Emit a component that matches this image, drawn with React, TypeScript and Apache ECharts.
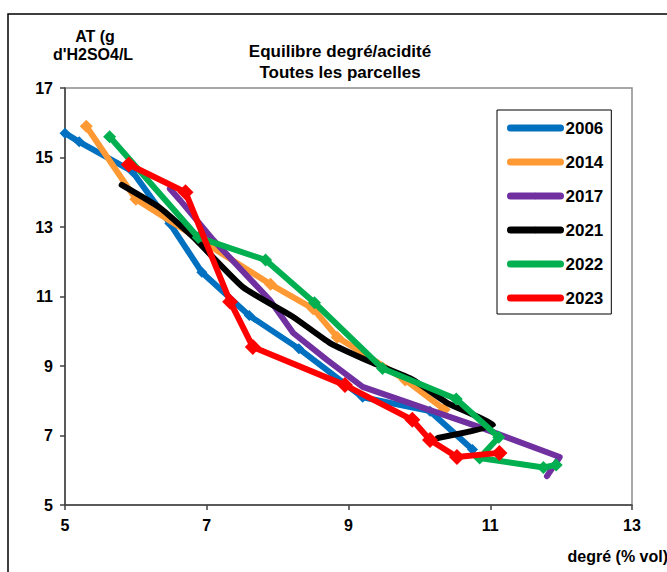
import React, { useEffect, useRef } from "react";
import * as echarts from "echarts";

const xTicks = [5, 7, 9, 11, 13];
const yTicks = [5, 7, 9, 11, 13, 15, 17];

const years = ["2006", "2014", "2017", "2021", "2022", "2023"];
const colors = ["#0070C0", "#FF9933", "#7030A0", "#000000", "#00B050", "#FF0000"];

const s2006 = [[5.0, 15.7], [5.2, 15.45], [5.95, 14.6], [6.48, 13.1], [6.93, 11.7], [7.6, 10.45], [8.3, 9.5], [9.2, 8.1], [10.15, 7.7], [10.75, 6.6]];
const s2014 = [[5.3, 15.9], [6.0, 13.8], [7.9, 11.35], [8.5, 10.65], [8.84, 9.83], [9.8, 8.6], [10.35, 7.75]];
const s2017 = [[6.48, 14.1], [6.62, 13.78], [7.09, 12.63], [7.89, 10.9], [8.22, 9.95], [8.7, 9.17], [9.2, 8.4], [10.15, 7.73], [10.85, 7.24], [11.98, 6.38], [11.8, 5.83]];
const s2021 = [[5.8, 14.21], [6.34, 13.55], [6.81, 12.71], [7.51, 11.27], [8.22, 10.41], [8.74, 9.66], [9.34, 9.09], [9.91, 8.6], [10.39, 7.94], [11.04, 7.3], [10.26, 6.93]];
const s2022 = [[5.63, 15.6], [6.88, 12.7], [7.83, 12.05], [8.52, 10.82], [9.48, 8.93], [10.52, 8.05], [11.12, 6.95], [10.85, 6.35], [11.75, 6.08], [11.93, 6.15]];
const s2023 = [[5.9, 14.8], [6.7, 14.0], [7.33, 10.85], [7.65, 9.55], [8.95, 8.45], [9.9, 7.45], [10.15, 6.87], [10.53, 6.38], [11.13, 6.5]];

const seriesData = [s2006, s2014, s2017, s2021, s2022, s2023];
const markerSizes = [11, 13, 0, 0, 13, 16];
const smoothFlags = [false, false, false, 0.15, false, false];

const FONT = "'Liberation Sans', Arial, sans-serif";

export default function App() {
  const ref = useRef<HTMLDivElement>(null);
  useEffect(() => {
    if (!ref.current) return;
    const chart = echarts.init(ref.current, undefined, { renderer: "svg" });
    const option: any = {
      animation: false,
      backgroundColor: "#ffffff",
      textStyle: { fontFamily: FONT },
      grid: {
        left: 65,
        top: 88,
        right: 35,
        bottom: 67,
        show: true,
        borderColor: "#8c8c8c",
        borderWidth: 1.5,
      },
      xAxis: {
        type: "value",
        min: xTicks[0],
        max: xTicks[xTicks.length - 1],
        interval: 2,
        splitLine: { show: false },
        axisLine: { show: true, lineStyle: { color: "#404040", width: 1.5 } },
        axisTick: { show: true, length: 5, lineStyle: { color: "#404040", width: 1.5 } },
        axisLabel: { color: "#000", fontSize: 16, fontWeight: "bold", margin: 12, fontFamily: FONT },
      },
      yAxis: {
        type: "value",
        min: yTicks[0],
        max: yTicks[yTicks.length - 1],
        interval: 2,
        splitLine: { show: false },
        axisLine: { show: true, lineStyle: { color: "#404040", width: 1.5 } },
        axisTick: { show: true, length: 5, lineStyle: { color: "#404040", width: 1.5 } },
        axisLabel: { color: "#000", fontSize: 16, fontWeight: "bold", margin: 12, fontFamily: FONT },
      },
      legend: {
        orient: "vertical",
        left: 497,
        top: 110,
        padding: [8, 8, 6, 10],
        itemGap: 14,
        itemWidth: 50,
        itemHeight: 8,
        borderColor: "#000",
        borderWidth: 1,
        backgroundColor: "#fff",
        lineStyle: { width: 7, cap: "round" },
        textStyle: { fontSize: 17, fontWeight: "bold", color: "#000", lineHeight: 20, fontFamily: FONT },
        data: years,
      },
      graphic: [
        {
          type: "rect",
          shape: { x: 8, y: 14, width: 700, height: 620 },
          style: { fill: "none", stroke: "#000", lineWidth: 1.5 },
          silent: true,
        },
        {
          type: "text",
          x: 95,
          y: 36,
          style: { text: "AT (g", fontSize: 16, fontWeight: "bold", fill: "#000", textAlign: "center", textVerticalAlign: "middle", fontFamily: FONT },
        },
        {
          type: "text",
          x: 93,
          y: 54,
          style: { text: "d'H2SO4/L", fontSize: 16, fontWeight: "bold", fill: "#000", textAlign: "center", textVerticalAlign: "middle", fontFamily: FONT },
        },
        {
          type: "text",
          x: 340,
          y: 51,
          style: { text: "Equilibre degré/acidité", fontSize: 17, fontWeight: "bold", fill: "#000", textAlign: "center", textVerticalAlign: "middle", fontFamily: FONT },
        },
        {
          type: "text",
          x: 340,
          y: 72,
          style: { text: "Toutes les parcelles", fontSize: 17, fontWeight: "bold", fill: "#000", textAlign: "center", textVerticalAlign: "middle", fontFamily: FONT },
        },
        {
          type: "text",
          x: 668,
          y: 556,
          style: { text: "degré (% vol)", fontSize: 16, fontWeight: "bold", fill: "#000", textAlign: "right", textVerticalAlign: "middle", fontFamily: FONT },
        },
      ],
      series: years.map((y, i) => ({
        name: y,
        type: "line",
        data: seriesData[i],
        color: colors[i],
        smooth: smoothFlags[i],
        symbol: markerSizes[i] > 0 ? "diamond" : "none",
        symbolSize: markerSizes[i],
        showSymbol: markerSizes[i] > 0,
        lineStyle: { width: 6, color: colors[i], cap: "round", join: "round" },
        itemStyle: { color: colors[i] },
        z: 2 + i,
      })),
    };
    chart.setOption(option);
    return () => chart.dispose();
  }, []);
  return (
    <div
      ref={ref}
      style={{ position: "fixed", left: 0, top: 0, width: 667, height: 572 }}
    />
  );
}
